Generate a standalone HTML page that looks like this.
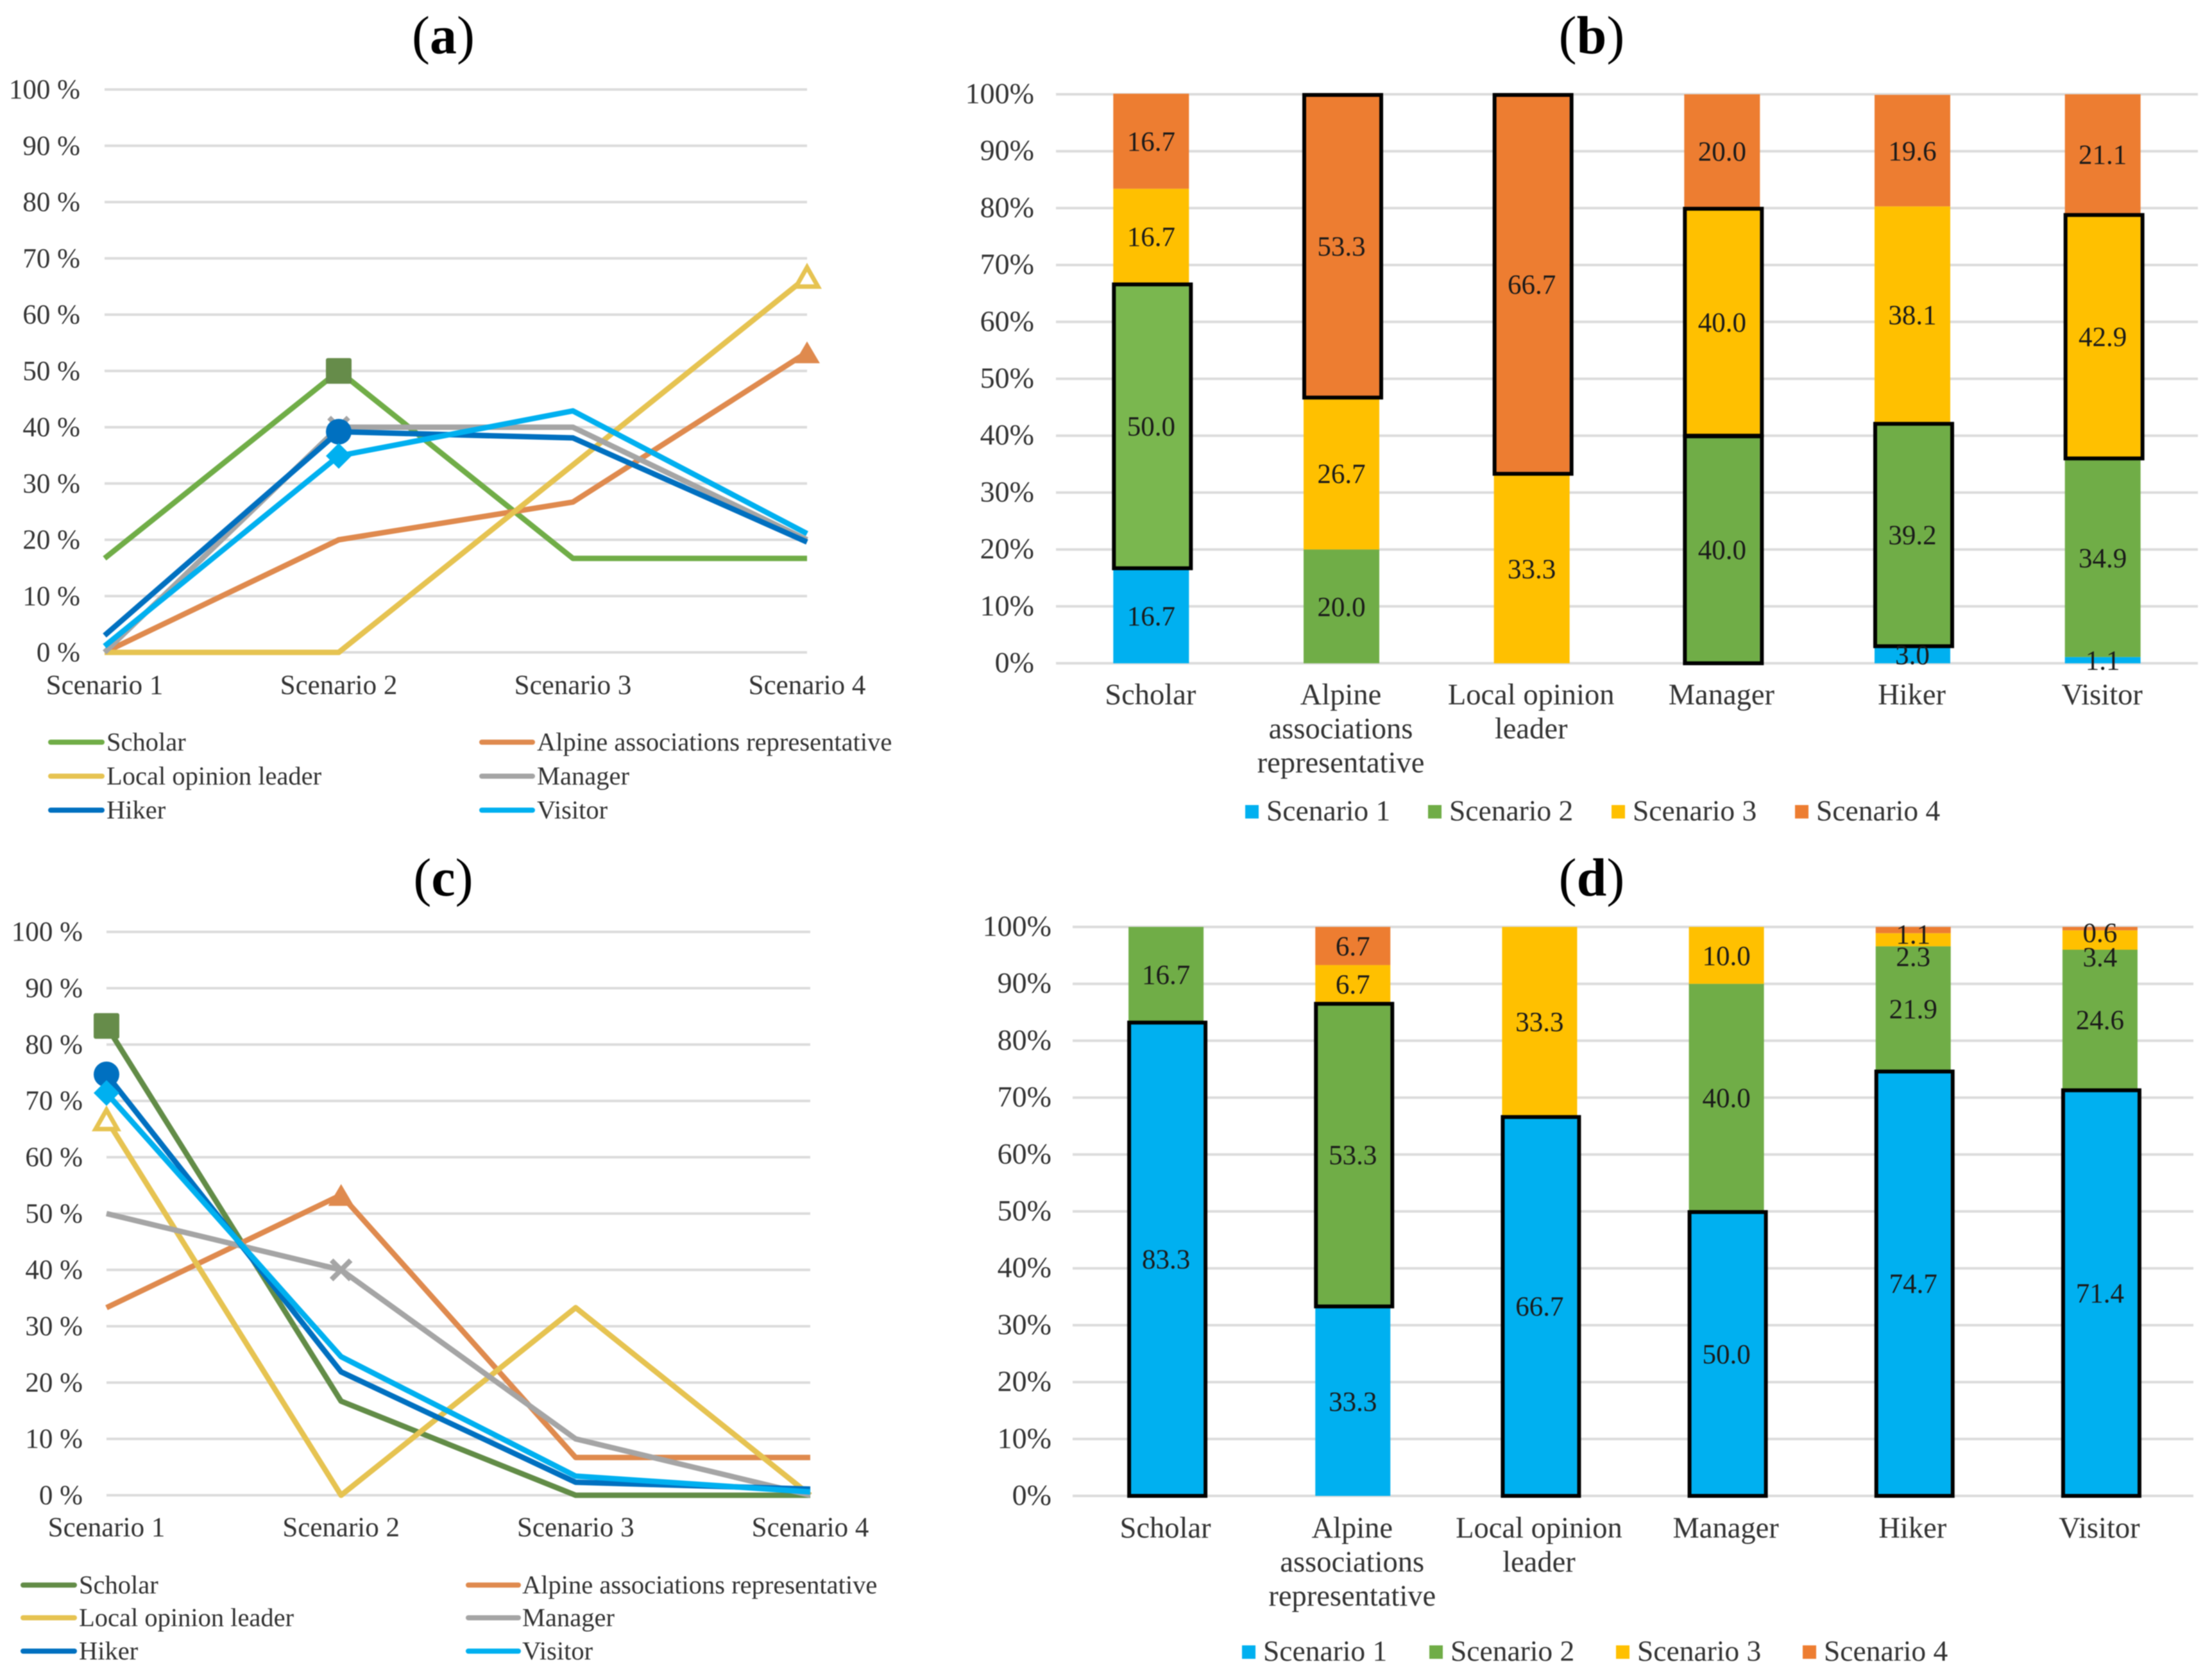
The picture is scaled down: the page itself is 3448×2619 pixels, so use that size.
<!DOCTYPE html>
<html>
<head>
<meta charset="utf-8">
<title>Scenario preference charts</title>
<style>
html,body{margin:0;padding:0;background:#fff;overflow:hidden;}
svg{display:block;filter:blur(0.9px);}
text{font-family:"Liberation Serif","Times New Roman",serif;}
</style>
</head>
<body>
<svg id="figure" xmlns="http://www.w3.org/2000/svg" width="3448" height="2619" viewBox="0 0 3448 2619">
<rect width="3448" height="2619" fill="#ffffff"/>
</svg>
<script>
const scenarioNames = ['Scenario 1','Scenario 2','Scenario 3','Scenario 4'];
const roleNames = ['Scholar','Alpine associations representative','Local opinion leader','Manager','Hiker','Visitor'];
const axisValues = [0,10,20,30,40,50,60,70,80,90,100];
const lineTickLabels = ['0 %','10 %','20 %','30 %','40 %','50 %','60 %','70 %','80 %','90 %','100 %'];
const barTickLabels = ['0%','10%','20%','30%','40%','50%','60%','70%','80%','90%','100%'];

const aScholar = [16.7,50.0,16.7,16.7];
const aAlpine = [0,20.0,26.7,53.3];
const aLocal = [0,0,33.3,66.7];
const aManager = [0,40.0,40.0,20.0];
const aHiker = [3.0,39.2,38.1,19.6];
const aVisitor = [1.1,34.9,42.9,21.1];

const cScholar = [83.3,16.7,0,0];
const cAlpine = [33.3,53.3,6.7,6.7];
const cLocal = [66.7,0,33.3,0];
const cManager = [50.0,40.0,10.0,0];
const cHiker = [74.7,21.9,2.3,1.1];
const cVisitor = [71.4,24.6,3.4,0.6];

const bScenario1 = [16.7,0,0,0,3.0,1.1];
const bScenario2 = [50.0,20.0,0,40.0,39.2,34.9];
const bScenario3 = [16.7,26.7,33.3,40.0,38.1,42.9];
const bScenario4 = [16.7,53.3,66.7,20.0,19.6,21.1];

const dScenario1 = [83.3,33.3,66.7,50.0,74.7,71.4];
const dScenario2 = [16.7,53.3,0,40.0,21.9,24.6];
const dScenario3 = [0,6.7,33.3,10.0,2.3,3.4];
const dScenario4 = [0,6.7,0,0,1.1,0.6];

/* category index, scenario index of the black-outlined segments */
const bOutlined = [[0,1],[1,3],[2,3],[3,2],[3,1],[4,1],[5,2]];
const dOutlined = [[0,0],[1,1],[2,0],[3,0],[4,0],[5,0]];

const SVGNS = 'http://www.w3.org/2000/svg';
const root = document.getElementById('figure');
const TEXT = '#333333';
const GRID = '#dcdcdc';
const scenarioColors = ['#00b0f0','#70ad47','#ffc000','#ed7d31'];

function make(parent, tag, attrs, content) {
  const el = document.createElementNS(SVGNS, tag);
  for (const k in attrs) el.setAttribute(k, attrs[k]);
  if (content !== undefined) el.textContent = content;
  parent.appendChild(el);
  return el;
}
function slug(s) {
  return s.toLowerCase().replace(/[^a-z0-9]+/g, '-');
}
function makeGroup(parent, name) {
  const g = document.createElementNS(SVGNS, 'g');
  
  
  parent.appendChild(g);
  return g;
}
function drawTitle(panel, letter, cx, baseline) {
  const t = make(panel, 'text', {x:cx, y:baseline, 'text-anchor':'middle', 'font-size':84, fill:'#000'});
  
  
  make(t, 'tspan', {}, '(');
  make(t, 'tspan', {'font-weight':'bold'}, letter);
  make(t, 'tspan', {}, ')');
}
function drawAxis(panel, g, labels, fontSize) {
  axisValues.forEach(function (v, i) {
    const y = g.y(v);
    const line = make(panel, 'line', {x1:g.x0, x2:g.x1, y1:y, y2:y, stroke:GRID, 'stroke-width':4});
    
    
    const tick = make(panel, 'text', {x:g.tickRight, y:y + 14, 'text-anchor':'end', 'font-size':fontSize, fill:TEXT}, labels[i]);
    
    
  });
}
function yScale(y100, y0) {
  return function (v) { return y0 + (y100 - y0) * v / 100; };
}

function drawMarker(parent, kind, cx, cy, color) {
  let m;
  if (kind === 'square') {
    m = make(parent, 'rect', {x:cx - 20, y:cy - 20, width:40, height:40, rx:3, fill:color});
  } else if (kind === 'circle') {
    m = make(parent, 'circle', {cx:cx, cy:cy, r:20, fill:color});
  } else if (kind === 'diamond') {
    m = make(parent, 'polygon', {points:[cx,cy-20,cx+20,cy,cx,cy+20,cx-20,cy].join(','), fill:color});
  } else if (kind === 'triangle') {
    m = make(parent, 'polygon', {points:[cx,cy-17,cx+20,cy+17,cx-20,cy+17].join(','), fill:color});
  } else if (kind === 'hollow') {
    m = make(parent, 'polygon', {points:[cx,cy-15,cx+17,cy+15,cx-17,cy+15].join(','), fill:'#fff', stroke:color, 'stroke-width':7});
  } else {
    m = make(parent, 'path', {d:'M'+(cx-15)+' '+(cy-15)+'L'+(cx+15)+' '+(cy+15)+'M'+(cx+15)+' '+(cy-15)+'L'+(cx-15)+' '+(cy+15), stroke:color, 'stroke-width':8, fill:'none'});
  }
  
  
}

function drawLineChart(panelName, letter, g, series) {
  const panel = makeGroup(root, panelName);
  drawTitle(panel, letter, g.titleX, g.titleY);
  drawAxis(panel, g, lineTickLabels, 43);
  const xOf = function (i) { return g.x0 + (g.x1 - g.x0) * i / 3; };
  scenarioNames.forEach(function (name, i) {
    const lab = make(panel, 'text', {x:xOf(i), y:g.catBase, 'text-anchor':'middle', 'font-size':43, fill:TEXT}, name);
    
    
  });
  series.forEach(function (s) {
    const pts = s.values.map(function (v, i) { return xOf(i) + ',' + g.y(v); }).join(' ');
    const pl = make(panel, 'polyline', {points:pts, fill:'none', stroke:s.color, 'stroke-width':8.5, 'stroke-linejoin':'round'});
    
    
  });
  series.forEach(function (s) {
    drawMarker(panel, s.marker, xOf(s.at), g.y(s.values[s.at]), s.markerColor || s.color);
  });
  series.forEach(function (s, i) {
    const col = i % 2, row = Math.floor(i / 2);
    const y = g.legendY[row];
    const key = make(panel, 'line', {x1:g.legendLine[col][0], x2:g.legendLine[col][1], y1:y, y2:y, stroke:s.color, 'stroke-width':8, 'stroke-linecap':'round'});
    
    
    const t = make(panel, 'text', {x:g.legendText[col], y:y + 13, 'font-size':40.5, fill:TEXT}, s.name);
    
    
  });
}

const catLines = [['Scholar'],['Alpine','associations','representative'],['Local opinion','leader'],['Manager'],['Hiker'],['Visitor']];

function drawBarChart(panelName, letter, g, stacks, outlined) {
  const panel = makeGroup(root, panelName);
  drawTitle(panel, letter, g.titleX, g.titleY);
  drawAxis(panel, g, barTickLabels, 46);
  const slot = (g.x1 - g.x0) / 6;
  const bw = g.barWidth;
  const outlines = [];
  const labels = [];
  roleNames.forEach(function (role, c) {
    const cx = g.x0 + slot * (c + 0.5);
    let acc = 0;
    stacks.forEach(function (vals, s) {
      const v = vals[c];
      if (v <= 0) return;
      const top = g.y(acc + v), bot = g.y(acc);
      const fill = (g.lightFirst && c === 0 && s === 1) ? '#7ab74f' : scenarioColors[s];
      const seg = make(panel, 'rect', {x:cx - bw / 2, y:top, width:bw, height:bot - top, fill:fill});
      
      
      if (outlined.some(function (o) { return o[0] === c && o[1] === s; })) {
        outlines.push([cx, top, bot]);
      }
      /* thin top segments: labels pushed apart so they do not collide */
      let nudge = 0;
      if (s === 2 && v < 5) nudge = 26;
      if (s === 3 && v < 2) nudge = 6;
      labels.push([cx, (top + bot) / 2 + nudge, v.toFixed(1)]);
      acc += v;
    });
    catLines[c].forEach(function (line, k) {
      const lab = make(panel, 'text', {x:cx - 1, y:g.catBase + k * 53, 'text-anchor':'middle', 'font-size':46.5, fill:TEXT}, line);
      
      
    });
  });
  outlines.forEach(function (o) {
    const r = make(panel, 'rect', {x:o[0] - bw / 2 + 1, y:o[1] + 1, width:bw + 2, height:o[2] - o[1] - 1, fill:'none', stroke:'#000', 'stroke-width':6});
    
    
  });
  labels.forEach(function (l) {
    const t = make(panel, 'text', {x:l[0], y:l[1] + 15, 'text-anchor':'middle', 'font-size':43, fill:'#1a1a1a'}, l[2]);
    
    
  });
  scenarioNames.forEach(function (name, s) {
    const sw = make(panel, 'rect', {x:g.swatchX[s], y:g.legendY - 10, width:21, height:21, fill:scenarioColors[s]});
    
    
    const t = make(panel, 'text', {x:g.swatchX[s] + 33, y:g.legendY + 14, 'font-size':45.5, fill:TEXT}, name);
    
    
  });
}

drawLineChart('line-chart-a', 'a', {
  x0:163, x1:1258, y:yScale(139.5, 1017), tickRight:125, catBase:1082,
  titleX:691, titleY:83,
  legendY:[1157,1210,1263], legendLine:[[79,159],[751,830]], legendText:[166,837]
}, [
  {name:roleNames[0], values:aScholar, color:'#70ad47', marker:'square', markerColor:'#668c4a', at:1},
  {name:roleNames[1], values:aAlpine, color:'#df8a4e', marker:'triangle', at:3},
  {name:roleNames[2], values:aLocal, color:'#e6c351', marker:'hollow', at:3},
  {name:roleNames[3], values:aManager, color:'#a5a5a5', marker:'cross', at:1},
  {name:roleNames[4], values:aHiker, color:'#0070c0', marker:'circle', at:1},
  {name:roleNames[5], values:aVisitor, color:'#00b0f0', marker:'diamond', at:1}
]);

drawLineChart('line-chart-c', 'c', {
  x0:166, x1:1263, y:yScale(1452.7, 2331), tickRight:129, catBase:2395,
  titleX:691, titleY:1396,
  legendY:[2471,2522,2574], legendLine:[[36,116],[730,808]], legendText:[123,814]
}, [
  {name:roleNames[0], values:cScholar, color:'#628c47', marker:'square', markerColor:'#668c4a', at:0},
  {name:roleNames[1], values:cAlpine, color:'#df8a4e', marker:'triangle', at:1},
  {name:roleNames[2], values:cLocal, color:'#e6c351', marker:'hollow', at:0},
  {name:roleNames[3], values:cManager, color:'#a5a5a5', marker:'cross', at:1},
  {name:roleNames[4], values:cHiker, color:'#0070c0', marker:'circle', at:0},
  {name:roleNames[5], values:cVisitor, color:'#00b0f0', marker:'diamond', at:0}
]);

drawBarChart('stacked-bar-chart-b', 'b', {
  x0:1646, x1:3426, y:yScale(147, 1034), tickRight:1612, catBase:1098, barWidth:118, lightFirst:true,
  titleX:2481, titleY:83, legendY:1265, swatchX:[1941,2226,2512,2798]
}, [bScenario1,bScenario2,bScenario3,bScenario4], bOutlined);

drawBarChart('stacked-bar-chart-d', 'd', {
  x0:1672, x1:3419, y:yScale(1445, 2332), tickRight:1639, catBase:2397, barWidth:117,
  titleX:2481, titleY:1396, legendY:2575, swatchX:[1936,2228,2519,2810]
}, [dScenario1,dScenario2,dScenario3,dScenario4], dOutlined);
</script>
</body>
</html>
